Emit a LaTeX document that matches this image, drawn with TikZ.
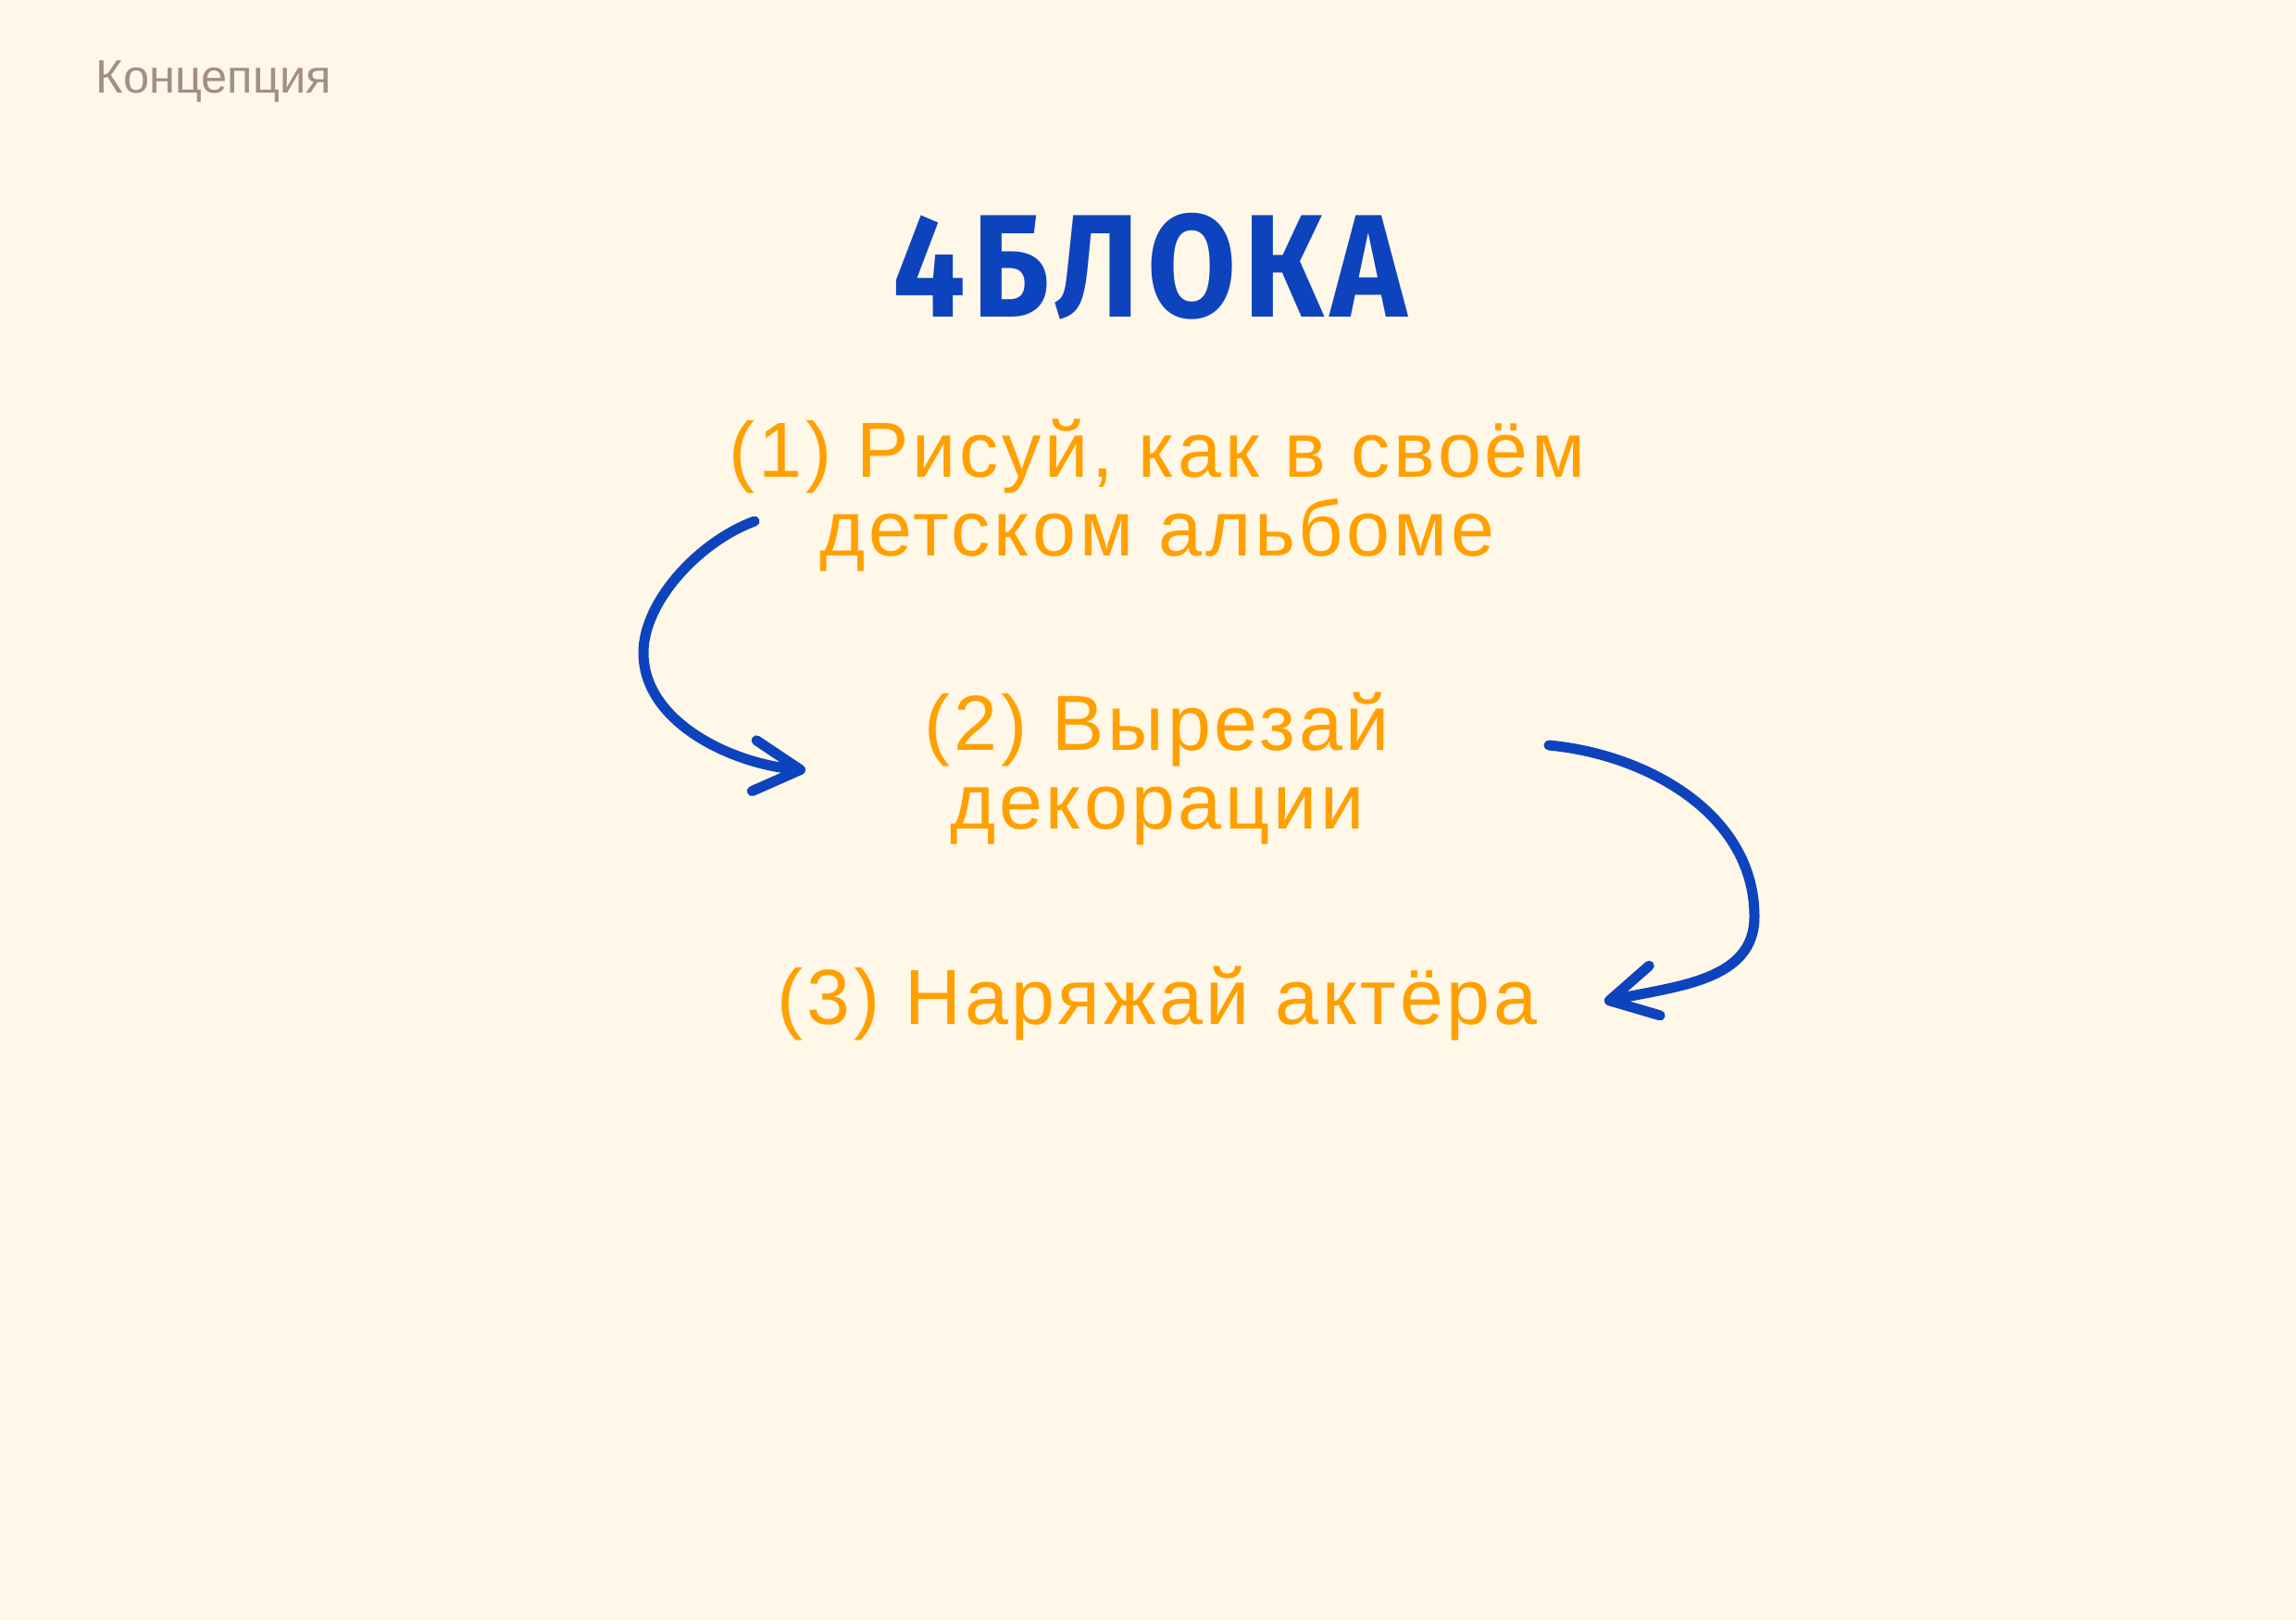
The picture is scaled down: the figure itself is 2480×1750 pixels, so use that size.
\documentclass[tikz,border=0pt]{standalone}
\usepackage{fontspec}
\setmainfont{Liberation Sans}
\newfontfamily\stepfont[LetterSpace=4.5]{Liberation Sans}
\newfontfamily\titlefont[FakeStretch=0.88, LetterSpace=5]{Fira Sans}
\usepackage{xcolor}
\usetikzlibrary{arrows.meta, positioning}

\definecolor{paper}{HTML}{FFF7E7}
\definecolor{ink}{HTML}{0D43BD}
\definecolor{stepcol}{HTML}{FFA000}
\definecolor{greycol}{HTML}{A38D88}

\begin{document}
\begin{tikzpicture}[x=0.1mm, y=-0.1mm]
            % Styles
            \tikzstyle{stepnode} = [text=stepcol, align=center, anchor=base, inner sep=0pt, font=\stepfont\fontsize{24pt}{24pt}\selectfont]
            \tikzstyle{curvy} = [draw=ink, line width=1.1mm, line cap=round, line join=round, -{Straight Barb[length=5mm, width=5.5mm, line cap=round, line join=round]}]

            % Page
            \fill[paper] (0,0) rectangle (2480,1750);
            \useasboundingbox (0,0) rectangle (2480,1750);

            % Header and title
            \node[anchor=base west, inner sep=0pt, text=greycol, font=\fontsize{14.4pt}{14.4pt}\selectfont] (concept) at (103,100) {Концепция};
            \node[anchor=base, inner sep=0pt, text=ink, font=\titlefont\bfseries\fontsize{45pt}{45pt}\selectfont] (title) at (1242,342) {4БЛОКА};

            % Steps (base = last line)
            \node[stepnode] (draw_step) at (1250,600) {(1) Рисуй, как в своём\\детском альбоме};
            \node[stepnode] (cut_step) at (1250,895) {(2) Вырезай\\декорации};
            \node[stepnode] (dress_step) at (1250,1106) {(3) Наряжай актёра};

            % Arrow ends
            \coordinate (draw_out) at (815,563);
            \coordinate (cut_in) at (870,832);
            \coordinate (cut_out) at (1673,805);
            \coordinate (dress_in) at (1733,1082);

            % Connections
            \draw[curvy] (draw_out) .. controls (755,585) and (695,650) .. (695,705)
                .. controls (695,780) and (790,825) .. (cut_in);
            \draw[curvy] (cut_out) .. controls (1780,815) and (1895,880) .. (1895,990)
                .. controls (1895,1060) and (1810,1065) .. (dress_in);
\end{tikzpicture}
\end{document}
